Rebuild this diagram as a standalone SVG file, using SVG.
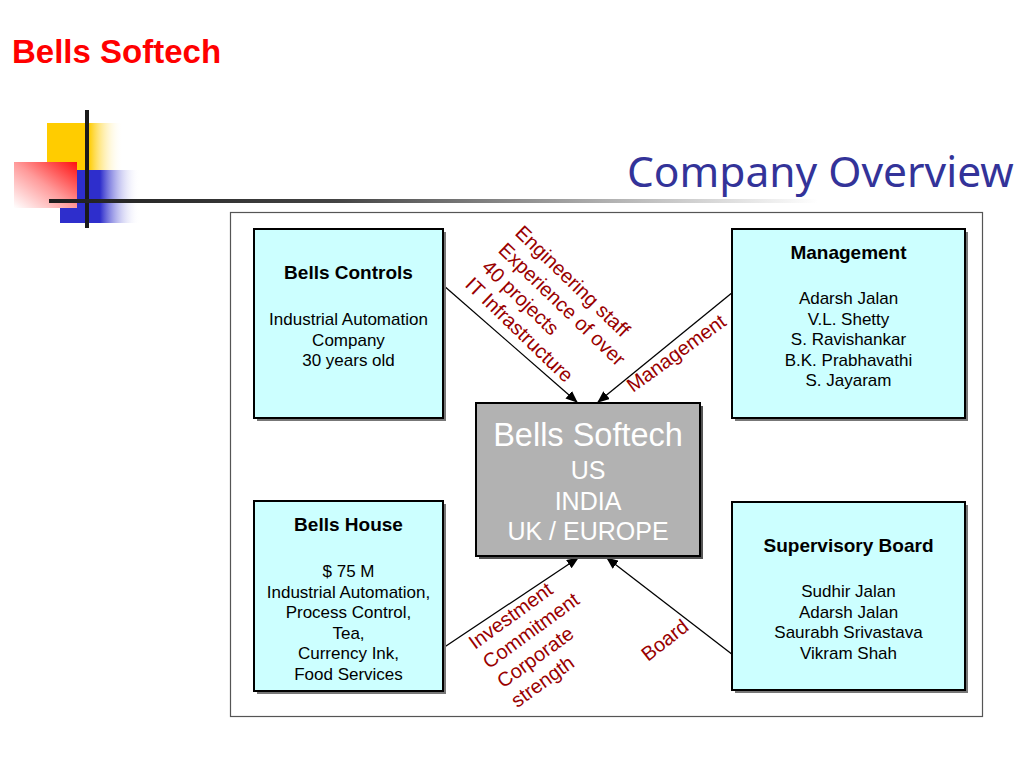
<svg xmlns="http://www.w3.org/2000/svg" width="1024" height="768" viewBox="0 0 1024 768">
<defs>
<linearGradient id="gYellow" x1="0" y1="0" x2="1" y2="0">
<stop offset="0" stop-color="#FFCC00"/><stop offset="0.55" stop-color="#FFCC00"/><stop offset="1" stop-color="#FFFFFF" stop-opacity="0"/>
</linearGradient>
<linearGradient id="gBlue" x1="0" y1="0" x2="1" y2="0">
<stop offset="0" stop-color="#2E2ECC"/><stop offset="0.5" stop-color="#2E2ECC"/><stop offset="1" stop-color="#FFFFFF" stop-opacity="0"/>
</linearGradient>
<linearGradient id="gRed" x1="1" y1="0" x2="0" y2="1">
<stop offset="0" stop-color="#FF1010"/><stop offset="0.5" stop-color="#FF9A9A"/><stop offset="1" stop-color="#FFFFFF"/>
</linearGradient>
<linearGradient id="gLine" gradientUnits="userSpaceOnUse" x1="49" y1="0" x2="1010" y2="0">
<stop offset="0" stop-color="#1E1E1E"/><stop offset="0.3" stop-color="#444"/><stop offset="0.58" stop-color="#B0B0B0"/><stop offset="0.8" stop-color="#FFFFFF"/>
</linearGradient>
<marker id="arrow" markerUnits="userSpaceOnUse" markerWidth="12" markerHeight="10" refX="11" refY="5" orient="auto">
<path d="M0,0 L12,5 L0,10 z" fill="#000"/>
</marker>
<style>
.box{fill:#CCFFFF;stroke:#000;stroke-width:2}
.shadow{fill:#777}
.t{font-family:"Liberation Sans",Arial,sans-serif;text-anchor:middle;fill:#000}
.h{font-size:19px;font-weight:bold}
.r{font-size:17px}
.lbl{font-family:"Liberation Sans",Arial,sans-serif;font-size:20px;fill:#990000}
.conn{stroke:#000;stroke-width:1.3;fill:none;marker-end:url(#arrow)}
.ctr{font-family:"Liberation Sans",Arial,sans-serif;text-anchor:middle;fill:#fff}
</style>
</defs>
<rect width="1024" height="768" fill="#fff"/>

<g id="logo">
<rect x="47" y="123" width="76" height="47" fill="url(#gYellow)"/>
<rect x="60" y="170" width="80" height="53" fill="url(#gBlue)"/>
<rect x="14" y="162" width="63" height="46" fill="url(#gRed)"/>
<rect x="85" y="110" width="4" height="118" fill="#1a1a1a"/>
<rect x="49" y="199" width="961" height="4" fill="url(#gLine)"/>
</g>

<text x="12" y="63" font-family="Liberation Sans, Arial, sans-serif" font-size="33" font-weight="bold" fill="#FF0000">Bells Softech</text>
<text x="627" y="187" font-family="Noto Sans, Open Sans, sans-serif" font-size="42.5" fill="#333399">Company Overview</text>

<rect id="frame" x="230.5" y="212.5" width="752" height="504" fill="none" stroke="#555" stroke-width="1.2"/>

<g id="connectors">
<line class="conn" x1="443" y1="285" x2="577" y2="402"/>
<line class="conn" x1="733" y1="292" x2="598" y2="402"/>
<line class="conn" x1="443" y1="648" x2="578" y2="558"/>
<line class="conn" x1="733" y1="655" x2="607" y2="558"/>
</g>

<g id="bells-controls">
<rect class="shadow" x="257" y="232" width="189" height="189"/>
<rect class="box" x="254" y="229" width="189" height="189"/>
<text class="t h" x="348.5" y="279">Bells Controls</text>
<text class="t r" x="348.5" y="325">Industrial Automation</text>
<text class="t r" x="348.5" y="345.5">Company</text>
<text class="t r" x="348.5" y="366">30 years old</text>
</g>

<g id="management">
<rect class="shadow" x="735" y="232" width="233" height="189"/>
<rect class="box" x="732" y="229" width="233" height="189"/>
<text class="t h" x="848.5" y="259">Management</text>
<text class="t r" x="848.5" y="304">Adarsh Jalan</text>
<text class="t r" x="848.5" y="324.5">V.L. Shetty</text>
<text class="t r" x="848.5" y="345">S. Ravishankar</text>
<text class="t r" x="848.5" y="365.5">B.K. Prabhavathi</text>
<text class="t r" x="848.5" y="386">S. Jayaram</text>
</g>

<g id="bells-house">
<rect class="shadow" x="257" y="504" width="189" height="190"/>
<rect class="box" x="254" y="501" width="189" height="190"/>
<text class="t h" x="348.5" y="531">Bells House</text>
<text class="t r" x="348.5" y="577">$ 75 M</text>
<text class="t r" x="348.5" y="597.5">Industrial Automation,</text>
<text class="t r" x="348.5" y="618">Process Control,</text>
<text class="t r" x="348.5" y="638.5">Tea,</text>
<text class="t r" x="348.5" y="659">Currency Ink,</text>
<text class="t r" x="348.5" y="679.5">Food Services</text>
</g>

<g id="supervisory-board">
<rect class="shadow" x="735" y="505" width="233" height="188"/>
<rect class="box" x="732" y="502" width="233" height="188"/>
<text class="t h" x="848.5" y="552">Supervisory Board</text>
<text class="t r" x="848.5" y="597">Sudhir Jalan</text>
<text class="t r" x="848.5" y="617.5">Adarsh Jalan</text>
<text class="t r" x="848.5" y="638">Saurabh Srivastava</text>
<text class="t r" x="848.5" y="658.5">Vikram Shah</text>
</g>

<g id="bells-softech">
<rect x="479" y="406" width="224" height="153" fill="#555"/>
<rect x="476" y="403" width="224" height="153" fill="#B2B2B2" stroke="#000" stroke-width="2"/>
<text class="ctr" x="588" y="446" font-size="32.5">Bells Softech</text>
<text class="ctr" x="588" y="479" font-size="25">US</text>
<text class="ctr" x="588" y="510" font-size="25">INDIA</text>
<text class="ctr" x="588" y="540" font-size="25">UK / EUROPE</text>
</g>

<g id="labels">
<g transform="translate(514,234) rotate(44)">
<text class="lbl" x="0" y="0">Engineering staff</text>
<text class="lbl" x="0" y="24">Experience of over</text>
<text class="lbl" x="0" y="48">40 projects</text>
<text class="lbl" x="0" y="72">IT Infrastructure</text>
</g>
<text class="lbl" transform="translate(633,393) rotate(-36)">Management</text>
<g transform="translate(475,650) rotate(-36)">
<text class="lbl" x="0" y="0">Investment</text>
<text class="lbl" x="0" y="24">Commitment</text>
<text class="lbl" x="0" y="48">Corporate</text>
<text class="lbl" x="0" y="72">strength</text>
</g>
<text class="lbl" transform="translate(648,662) rotate(-38)">Board</text>
</g>
</svg>
